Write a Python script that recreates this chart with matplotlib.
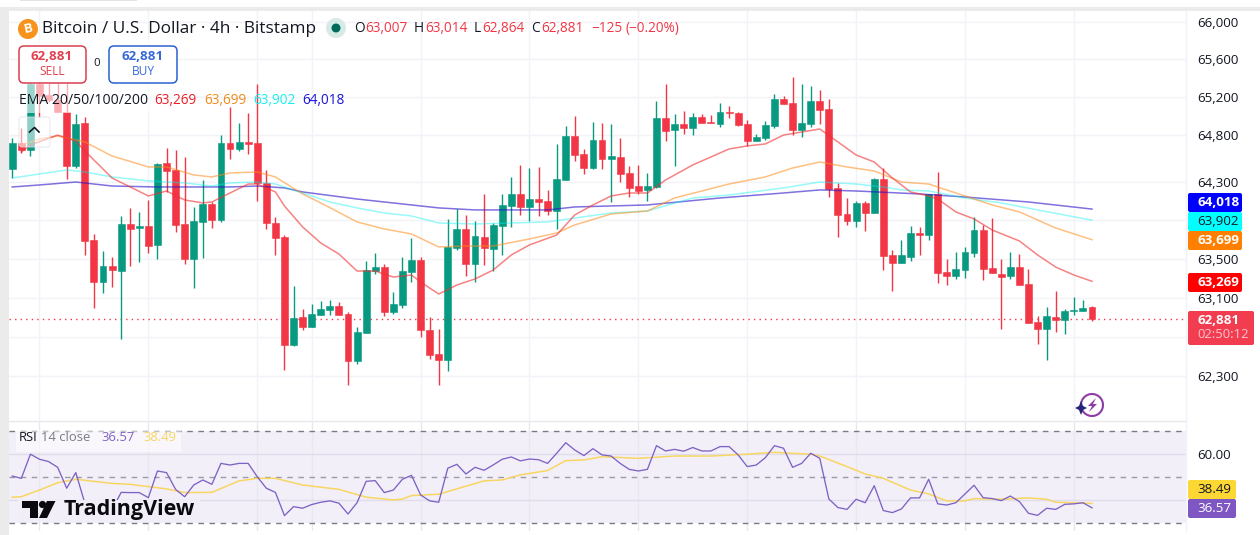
import matplotlib
matplotlib.use("Agg")
import matplotlib.pyplot as plt
from matplotlib.patches import Rectangle, Circle, Polygon, FancyBboxPatch, Arc

plt.rcParams['font.family'] = ['Open Sans', 'DejaVu Sans']

# candles, 4h bars
opens = [64437, 64711, 64637, 65336, 65220, 65167, 65039, 64469, 64922, 63696,
         63262, 63427, 63375, 63863, 63821, 63842, 63645, 64501, 64427, 63863,
         63499, 63884, 64071, 63905, 64711, 64648, 64722, 64711, 64291, 63873,
         63728, 62615, 62902, 62800, 62923, 62974, 63015, 62933, 62452, 62738,
         63375, 63416, 62953, 63025, 63365, 63489, 62769, 62524, 62463, 63614,
         63811, 63447, 63728, 63603, 63842, 64050, 64176, 64040, 64123, 64102,
         63998, 64322, 64785, 64595, 64448, 64743, 64543, 64564, 64396, 64259,
         64218, 64249, 64975, 64848, 64912, 64869, 64986, 64933, 64912, 65039,
         65028, 64912, 64732, 64764, 64891, 65177, 65135, 64848, 64912, 65156,
         65071, 64239, 63967, 63894, 64082, 63977, 64333, 63541, 63458, 63520,
         63769, 63748, 64176, 63365, 63324, 63385, 63562, 63800, 63406, 63344,
         63324, 63416, 63242, 62851, 62779, 62902, 62871, 62964, 62964, 63007]
highs = [64764, 64869, 65380, 65380, 65346, 65346, 65346, 65018, 64986, 63759,
         63582, 63520, 63946, 64030, 63988, 64113, 64501, 64658, 64637, 64564,
         64040, 64322, 64092, 64795, 65092, 64922, 65028, 65336, 64427, 63936,
         63748, 63221, 62984, 63035, 63066, 63077, 63056, 62953, 62800, 63478,
         63562, 63447, 63159, 63520, 63717, 63520, 62902, 62779, 63915, 64019,
         63957, 63894, 64176, 63873, 64176, 64354, 64480, 64448, 64459, 64218,
         64701, 64891, 64997, 64648, 64933, 64922, 64912, 64764, 64469, 64480,
         64396, 65156, 65336, 65018, 65050, 65028, 65018, 65007, 65135, 65103,
         65039, 64954, 64806, 64944, 65230, 65209, 65410, 65336, 65315, 65273,
         65177, 64291, 64134, 64102, 64102, 64343, 64448, 63593, 63696, 63842,
         63832, 64176, 64406, 63499, 63572, 63624, 63936, 63853, 63925, 63499,
         63572, 63551, 63396, 62912, 63005, 63169, 62984, 63108, 63077, 63014]
lows = [64343, 64606, 64574, 64986, 65150, 65039, 64333, 64448, 63541, 62994,
        63149, 63211, 62677, 63427, 63468, 63562, 63499, 64197, 63779, 63447,
        63200, 63510, 63821, 63884, 64543, 64627, 64595, 64102, 63811, 63541,
        62361, 62605, 62769, 62800, 62923, 62923, 62923, 62208, 62422, 62738,
        63344, 62912, 62933, 62994, 63262, 62697, 62473, 62208, 62351, 63593,
        63324, 63262, 63437, 63375, 63541, 63832, 63957, 63894, 63946, 63957,
        63811, 64322, 64522, 64385, 64437, 64437, 64092, 64301, 64144, 64176,
        64102, 64239, 64732, 64469, 64806, 64795, 64922, 64922, 64880, 64975,
        64891, 64680, 64732, 64743, 64869, 65124, 64795, 64774, 64880, 64912,
        64144, 63728, 63853, 63832, 63790, 63977, 63385, 63169, 63458, 63478,
        63541, 63696, 63252, 63231, 63293, 63303, 63520, 63283, 63355, 62779,
        63293, 63231, 62841, 62626, 62463, 62748, 62728, 62923, 62964, 62864]
closes = [64711, 64637, 65336, 65209, 65167, 65039, 64469, 64912, 63686, 63262,
          63427, 63385, 63863, 63811, 63842, 63634, 64490, 64417, 63853, 63499,
          63894, 64071, 63905, 64711, 64648, 64722, 64701, 64291, 63873, 63717,
          62615, 62892, 62800, 62933, 62984, 63015, 62923, 62452, 62748, 63385,
          63416, 62953, 63035, 63375, 63489, 62769, 62514, 62463, 63624, 63811,
          63447, 63738, 63614, 63853, 64061, 64176, 64040, 64123, 64092, 63998,
          64333, 64785, 64585, 64448, 64743, 64543, 64574, 64385, 64239, 64207,
          64259, 64975, 64838, 64912, 64869, 64986, 64922, 64922, 65039, 65028,
          64901, 64732, 64774, 64901, 65177, 65124, 64848, 64922, 65156, 65060,
          64228, 63957, 63894, 64082, 63977, 64333, 63530, 63458, 63541, 63769,
          63748, 64176, 63355, 63324, 63396, 63572, 63800, 63396, 63355, 63313,
          63416, 63231, 62841, 62779, 62912, 62871, 62964, 62974, 62994, 62881]

# EMAs, read at these bars
ema20_x = [1, 2, 5, 7, 8, 11, 13, 15, 17, 19, 21, 22, 24, 26, 27, 29, 30, 32, 34, 36, 38, 40, 42, 44,
           45, 47, 49, 51, 53, 55, 57, 60, 62, 64, 66, 68, 70, 72, 75, 79, 81, 83, 85, 89, 91, 93, 95,
           97, 99, 101, 102, 104, 106, 108, 111, 113, 115, 117, 119]
ema20_y = [64616, 64690, 64795, 64732, 64627, 64343, 64249, 64155, 64207, 64113, 64082, 64092, 64186,
           64280, 64280, 64197, 64050, 63832, 63665, 63551, 63375, 63375, 63313, 63334, 63262, 63138,
           63231, 63293, 63385, 63541, 63645, 63748, 63957, 64061, 64155, 64186, 64186, 64322, 64480,
           64648, 64680, 64701, 64795, 64859, 64722, 64585, 64511, 64343, 64197, 64155, 64123, 63988,
           63915, 63800, 63686, 63541, 63416, 63334, 63269]
ema50_x = [1, 3, 5, 8, 11, 15, 17, 20, 22, 24, 27, 29, 32, 34, 38, 41, 44, 47, 50, 53, 57, 60, 62, 66,
           70, 73, 79, 83, 86, 89, 92, 95, 98, 101, 104, 108, 111, 115, 119]
ema50_y = [64690, 64753, 64785, 64722, 64574, 64459, 64459, 64375, 64354, 64396, 64406, 64354, 64176,
           64082, 63884, 63811, 63759, 63624, 63634, 63634, 63707, 63769, 63853, 63967, 63998, 64134,
           64280, 64354, 64448, 64511, 64459, 64417, 64301, 64280, 64186, 64061, 63988, 63821, 63699]
ema100_x = [0, 3, 6, 8, 11, 15, 19, 22, 24, 27, 29, 32, 35, 38, 41, 44, 47, 51, 55, 59, 62, 66, 70, 75,
            79, 85, 89, 93, 96, 98, 101, 105, 109, 113, 119]
ema100_y = [64343, 64385, 64427, 64406, 64354, 64312, 64291, 64259, 64291, 64301, 64280, 64186, 64092,
            64030, 63977, 63946, 63873, 63863, 63873, 63884, 63925, 63977, 63998, 64134, 64165, 64239,
            64301, 64280, 64249, 64218, 64207, 64134, 64082, 64009, 63902]
ema200_x = [0, 3, 7, 11, 16, 21, 24, 27, 30, 32, 38, 44, 47, 51, 59, 62, 70, 78, 85, 89, 93, 100, 105,
            112, 119]
ema200_y = [64249, 64270, 64301, 64259, 64249, 64249, 64249, 64259, 64239, 64197, 64123, 64061, 64030,
            64009, 64009, 64040, 64061, 64134, 64186, 64218, 64207, 64176, 64144, 64092, 64018]
ema_labels = ["63,269", "63,699", "63,902", "64,018"]

# RSI, one value per bar
rsi = [50.4, 49.4, 59.9, 57.7, 56.7, 54.2, 45.1, 51.9, 38.6, 33.5,
       36.4, 35.7, 43.3, 43.2, 43.2, 41.0, 52.6, 51.9, 44.6, 41.4,
       46.5, 48.7, 46.8, 55.9, 55.2, 55.9, 55.9, 50.1, 45.1, 43.3,
       33.2, 37.1, 36.4, 38.0, 39.0, 39.6, 38.6, 33.9, 38.8, 48.1,
       48.4, 43.2, 44.3, 49.0, 50.7, 42.2, 39.6, 39.0, 53.8, 55.5,
       51.3, 54.2, 52.9, 55.2, 57.7, 58.7, 57.0, 57.8, 57.5, 55.9,
       60.3, 64.9, 61.7, 59.3, 62.3, 59.6, 59.1, 55.9, 53.3, 52.6,
       53.3, 63.6, 61.3, 62.0, 61.2, 62.8, 61.3, 61.3, 63.2, 63.2,
       59.6, 54.5, 55.2, 58.4, 63.6, 62.5, 54.2, 55.9, 60.3, 58.1,
       40.4, 36.7, 35.9, 40.3, 38.8, 46.2, 35.4, 34.5, 36.1, 40.9,
       40.9, 49.0, 38.3, 37.8, 38.8, 42.6, 46.4, 41.0, 40.6, 39.7,
       41.7, 39.3, 34.2, 33.3, 36.4, 35.9, 38.1, 38.3, 38.8, 36.57]
rsi_ma_x = [0, 1, 3, 5, 7, 11, 13, 17, 19, 22, 25, 27, 29, 32, 36, 39, 42, 43, 44, 47, 52, 54, 56, 59,
            61, 63, 65, 69, 73, 77, 81, 84, 88, 89, 92, 94, 96, 99, 101, 103, 105, 106, 109, 112, 114,
            115, 119]
rsi_ma_y = [41.2, 41.4, 44.3, 47.5, 49.0, 47.2, 46.8, 44.8, 43.2, 43.3, 48.3, 49.4, 49.4, 46.5, 44.6,
            41.2, 40.0, 40.4, 41.9, 42.5, 48.3, 48.7, 50.9, 52.8, 57.1, 57.4, 58.8, 58.1, 59.1, 59.1,
            59.9, 60.7, 59.9, 59.1, 54.5, 51.3, 49.4, 44.3, 42.6, 39.6, 39.6, 40.6, 40.3, 40.9, 40.3,
            39.0, 38.49]

price_ticks = [62300, 63100, 63500, 64300, 64800, 65200, 65600, 66000]
price_grid = [62300, 62700, 63100, 63500, 63900, 64300, 64800, 65200, 65600, 66000]
time_grid = [3, 15, 27, 33, 45, 57, 69, 81, 93, 105, 117]
last_price = 62881

GREEN = "#089981"
RED = "#f23645"
GRID = "#f2f3f8"
W, H = 1260, 535


def px_axes(left, top, right, bottom):
    return fig.add_axes([left / W, 1 - bottom / H, (right - left) / W, (bottom - top) / H])


fig = plt.figure(figsize=(W / 100, H / 100), dpi=100, facecolor="white")

# price pane
ax = px_axes(9, 11, 1186, 420)
ax.set_yscale("log")
ax.set_xlim(-0.36, 129.36)
ax.set_ylim(61855, 66118)
for g in price_grid:
    ax.axhline(g, color=GRID, lw=1, zorder=0)
for t in time_grid:
    ax.axvline(t, color=GRID, lw=1, zorder=0)
ax.axhline(last_price, color=RED, lw=1, ls=(0, (1, 3)), zorder=1)

for i in range(len(opens)):
    c = GREEN if closes[i] >= opens[i] else RED
    ax.vlines(i, lows[i], highs[i], color=c, lw=1, zorder=3)
    ax.bar(i, abs(closes[i] - opens[i]), bottom=min(opens[i], closes[i]), width=0.76,
           color=c, edgecolor=c, lw=0.4, zorder=3)

ax.plot(ema200_x, ema200_y, color="#2a12c8", lw=1.1, alpha=0.6, zorder=4)
ax.plot(ema100_x, ema100_y, color="#00f0f0", lw=1.1, alpha=0.4, zorder=4)
ax.plot(ema50_x, ema50_y, color="#ff8c1a", lw=1.1, alpha=0.55, zorder=4)
ax.plot(ema20_x, ema20_y, color="#f03030", lw=1.1, alpha=0.6, zorder=4)

ax.set_yticks(price_ticks)
ax.set_yticklabels([f"{p:,}" for p in price_ticks])
ax.minorticks_off()
ax.yaxis.tick_right()
ax.tick_params(axis="y", length=0, pad=8, labelsize=9.6, labelcolor="#131722")
ax.set_xticks([])
for s in ax.spines.values():
    s.set_visible(False)

# rsi pane
rx = px_axes(9, 422, 1186, 531)
rx.set_xlim(-0.36, 129.36)
rx.set_ylim(26.5, 73.9)
rx.axhspan(30, 70, color="#7e57c2", alpha=0.09, lw=0, zorder=0)
for t in time_grid:
    rx.axvline(t, color="#e8e8f0", lw=1, zorder=0)
rx.axhline(60, color="#e0ddea", lw=1, zorder=1)
rx.axhline(40, color="#e0ddea", lw=1, zorder=1)
rx.axhline(70, color="#787b86", lw=1, ls=(0, (4, 4)), zorder=1)
rx.axhline(50, color="#9a9ba6", lw=1, ls=(0, (4, 4)), zorder=1)
rx.axhline(30, color="#787b86", lw=1, ls=(0, (4, 4)), zorder=1)
rx.plot(rsi_ma_x, rsi_ma_y, color="#f7d661", lw=1.1, zorder=2)
rx.plot(range(len(rsi)), rsi, color="#7e62c4", lw=0.95, zorder=3)
rx.set_yticks([60])
rx.set_yticklabels(["60.00"])
rx.yaxis.tick_right()
rx.tick_params(axis="y", length=0, pad=8, labelsize=9.6, labelcolor="#131722")
rx.set_xticks([])
for s in rx.spines.values():
    s.set_visible(False)

# everything drawn on top of the panes, in pixels
top = fig.add_axes([0, 0, 1, 1], facecolor="none")
top.set_xlim(0, W)
top.set_ylim(H, 0)
top.axis("off")


def label(x, y, s, color="#131722", size=9.6, ha="left", weight="normal", z=10, **kw):
    top.text(x, y, s, color=color, fontsize=size, ha=ha, va="center", fontweight=weight, zorder=z, **kw)


def tag(x0, y0, x1, y1, face, s, color="white", weight="normal"):
    top.add_patch(FancyBboxPatch((x0 + 1, y0 + 1), x1 - x0 - 2, y1 - y0 - 2, boxstyle="round,pad=1,rounding_size=2",
                                 fc=face, ec=face, lw=0, zorder=8))
    label((x0 + 9), (y0 + y1) / 2, s, color=color, weight=weight)


# page frame
top.add_patch(Rectangle((0, 7), W, 4, fc="#ebebeb", lw=0, zorder=1))
top.add_patch(Rectangle((0, 7), 9, H - 7, fc="#ebebeb", lw=0, zorder=1))
top.add_patch(Rectangle((20, 0), 117, 1, fc="#e4e4e4", lw=0, zorder=1))
top.plot([9, 1186], [421, 421], color="#e6e8ee", lw=1, zorder=1)
top.plot([1186, 1186], [11, 531], color="#f0f3fa", lw=1, zorder=1)

# header
top.add_patch(Rectangle((19, 40), 135, 73, fc="white", alpha=0.6, lw=0, zorder=5))
top.add_patch(Circle((28, 29), 10, fc="#f7931a", lw=0, zorder=9))
label(28, 29, "B", color="white", size=9.5, ha="center", weight="bold", rotation=12)
label(42.5, 29, "Bitcoin / U.S. Dollar · 4h · Bitstamp", size=12.45)
top.add_patch(Circle((336, 28), 10, fc="#d6ebe6", lw=0, zorder=9))
top.add_patch(Circle((336, 28), 4.5, fc="#006b5b", lw=0, zorder=9))
for x, s, c in [(354, "O", "#131722"), (365, "63,007", RED), (414, "H", "#131722"), (425, "63,014", RED),
                (474, "L", "#131722"), (482, "62,864", RED), (531, "C", "#131722"), (541, "62,881", RED),
                (591, "−125", RED), (625, "(−0.20%)", RED)]:
    label(x, 28.5, s, color=c, size=9.8)

# sell / buy
top.add_patch(FancyBboxPatch((20, 47), 65, 35, boxstyle="round,pad=1,rounding_size=5", fc="white", ec="#d9404f", lw=1.1, zorder=9))
top.add_patch(FancyBboxPatch((110, 47), 66, 35, boxstyle="round,pad=1,rounding_size=5", fc="white", ec="#2962d0", lw=1.1, zorder=9))
label(52, 56.5, "62,881", color="#e0404f", ha="center", weight="bold", size=9.6)
label(52, 71.5, "SELL", color="#e0404f", ha="center", size=8.6)
label(97, 64, "0", ha="center", size=8.2)
label(143, 56.5, "62,881", color="#3868d8", ha="center", weight="bold", size=9.6)
label(143, 71.5, "BUY", color="#3868d8", ha="center", size=8.6)

# ema legend
label(19, 101, "EMA 20/50/100/200", size=10.1)
for x, s, c in zip([154, 204, 253, 302], ema_labels, ["#e8202a", "#f08a1d", "#19f0f0", "#1a14d8"]):
    label(x, 101, s, color=c, size=9.8)

# collapse button
top.add_patch(FancyBboxPatch((20, 118), 29, 28, boxstyle="round,pad=1,rounding_size=3", fc="white", ec="#dfe1e8", lw=1, alpha=0.55, zorder=8))
top.plot([29.5, 34.5, 39], [132, 127.5, 132], color="#131722", lw=1.2, zorder=9)

# price axis tags
tag(1188, 193, 1242, 212, "#0000ff", "64,018", weight="bold")
tag(1188, 212, 1242, 231, "#00ffff", "63,902", color="#131722")
tag(1188, 231, 1242, 250, "#ff7f00", "63,699", weight="bold")
tag(1188, 273, 1242, 292, "#ff0000", "63,269", weight="bold")
top.add_patch(FancyBboxPatch((1189, 312), 64, 32, boxstyle="round,pad=1,rounding_size=2", fc="#f23c50", lw=0, zorder=8))
label(1197, 320, "62,881", color="white", weight="bold")
label(1197, 335, "02:50:12", color="#fbc5cc", size=9.4)

# rsi legend and tags
top.add_patch(Rectangle((16, 431), 165, 21, fc="white", alpha=0.55, lw=0, zorder=5))
label(19, 437.5, "RSI", size=9.4)
label(41, 437.5, "14 close", color="#787b86", size=9.4)
label(101, 437.5, "36.57", color="#7e62c4", size=9.4)
label(143, 437.5, "38.49", color="#f7d661", size=9.4)
tag(1188, 480, 1236, 499, "#fdd835", "38.49", color="#131722")
tag(1188, 499, 1236, 518, "#7e57c2", "36.57")

# tradingview mark, with the pane colour hiding the lines behind it
top.add_patch(Rectangle((18, 500), 182, 22, fc="#f1eef8", lw=0, zorder=8))
top.add_patch(Polygon([(22, 501), (38, 501), (38, 518), (30, 518), (30, 508), (22, 508)], fc="#0b0b0f", lw=0, zorder=9))
top.add_patch(Circle((42.5, 504.5), 3.6, fc="#0b0b0f", lw=0, zorder=9))
top.add_patch(Polygon([(47, 501), (55.5, 501), (47, 518), (39, 518)], fc="#0b0b0f", lw=0, zorder=9))
label(64, 509.5, "TradingView", color="#0b0b0f", size=15.5, weight="bold")

# bolt badge
top.add_patch(Arc((1092, 405), 22, 22, theta1=-240, theta2=120, color="#8e3ba6", lw=1.5, zorder=9))
top.add_patch(Polygon([(1096, 398), (1088, 406), (1092, 406), (1089, 412), (1097, 404), (1093, 404)], fc="#8e3ba6", lw=0, zorder=9))
top.add_patch(Polygon([(1081, 401), (1083, 406), (1087, 408), (1083, 410), (1081, 415), (1079, 410), (1075, 408), (1079, 406)],
                      fc="#27247a", lw=0, zorder=10))

fig.savefig("out.png", dpi=100)
